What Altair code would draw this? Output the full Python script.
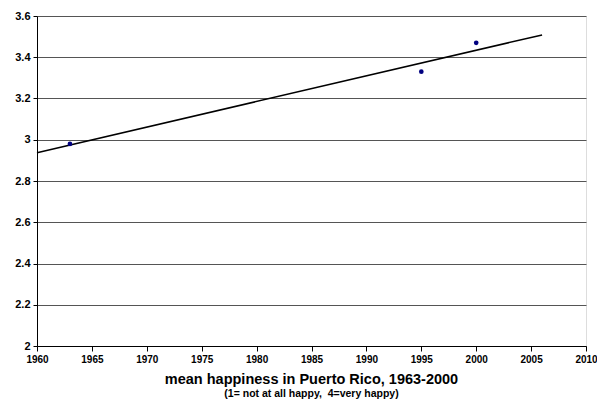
import altair as alt
import pandas as pd

years = [1963, 1995, 2000]
happiness = [2.98, 3.33, 3.47]

df = pd.DataFrame({"year": years, "value": happiness})

FONT = "Liberation Sans"

x = alt.X("year:Q", scale=alt.Scale(domain=[1960, 2010], nice=False, zero=False),
          axis=alt.Axis(values=list(range(1960, 2011, 5)), format="d", title=None,
                        grid=False, labelFont=FONT, labelFontWeight="bold", labelFontSize=10,
                        labelColor="black", domainColor="black", tickColor="black",
                        tickSize=5, labelPadding=3, labelFlush=False, labelOverlap=False))
y = alt.Y("value:Q", scale=alt.Scale(domain=[2, 3.6], nice=False, zero=False),
          axis=alt.Axis(values=[2, 2.2, 2.4, 2.6, 2.8, 3, 3.2, 3.4, 3.6], format="~f", title=None,
                        grid=True, gridColor="#555555", gridWidth=1,
                        labelFont=FONT, labelFontWeight="bold", labelFontSize=11,
                        labelColor="black", domainColor="black", tickColor="black",
                        tickSize=4, labelPadding=3, labelFlush=False))

points = alt.Chart(df).mark_circle(color="#000080", size=22, opacity=1).encode(x=x, y=y)

trend = alt.Chart(df).transform_regression(
    "year", "value", extent=[1960, 2006]
).mark_line(color="black", strokeWidth=1.5).encode(x=x, y=y)

chart = alt.layer(trend, points).properties(
    width=549, height=330,
    padding={"left": 29, "top": 8, "right": 11, "bottom": 55},
    autosize=alt.AutoSizeParams(type="none"),
    title=alt.TitleParams(
        text="mean happiness in Puerto Rico, 1963-2000",
        subtitle="(1= not at all happy,\u00a0\u00a04=very happy)",
        orient="bottom", anchor="middle", offset=9,
        font=FONT, fontSize=14.5, fontWeight="bold", color="black",
        subtitleFont=FONT, subtitleFontSize=10.5, subtitleFontWeight="bold",
        subtitleColor="black", subtitlePadding=1,
    ),
).configure_view(stroke="#999999", strokeWidth=1).configure(background="white")

chart.save("out.html", embed_options={"renderer": "svg", "actions": False})
